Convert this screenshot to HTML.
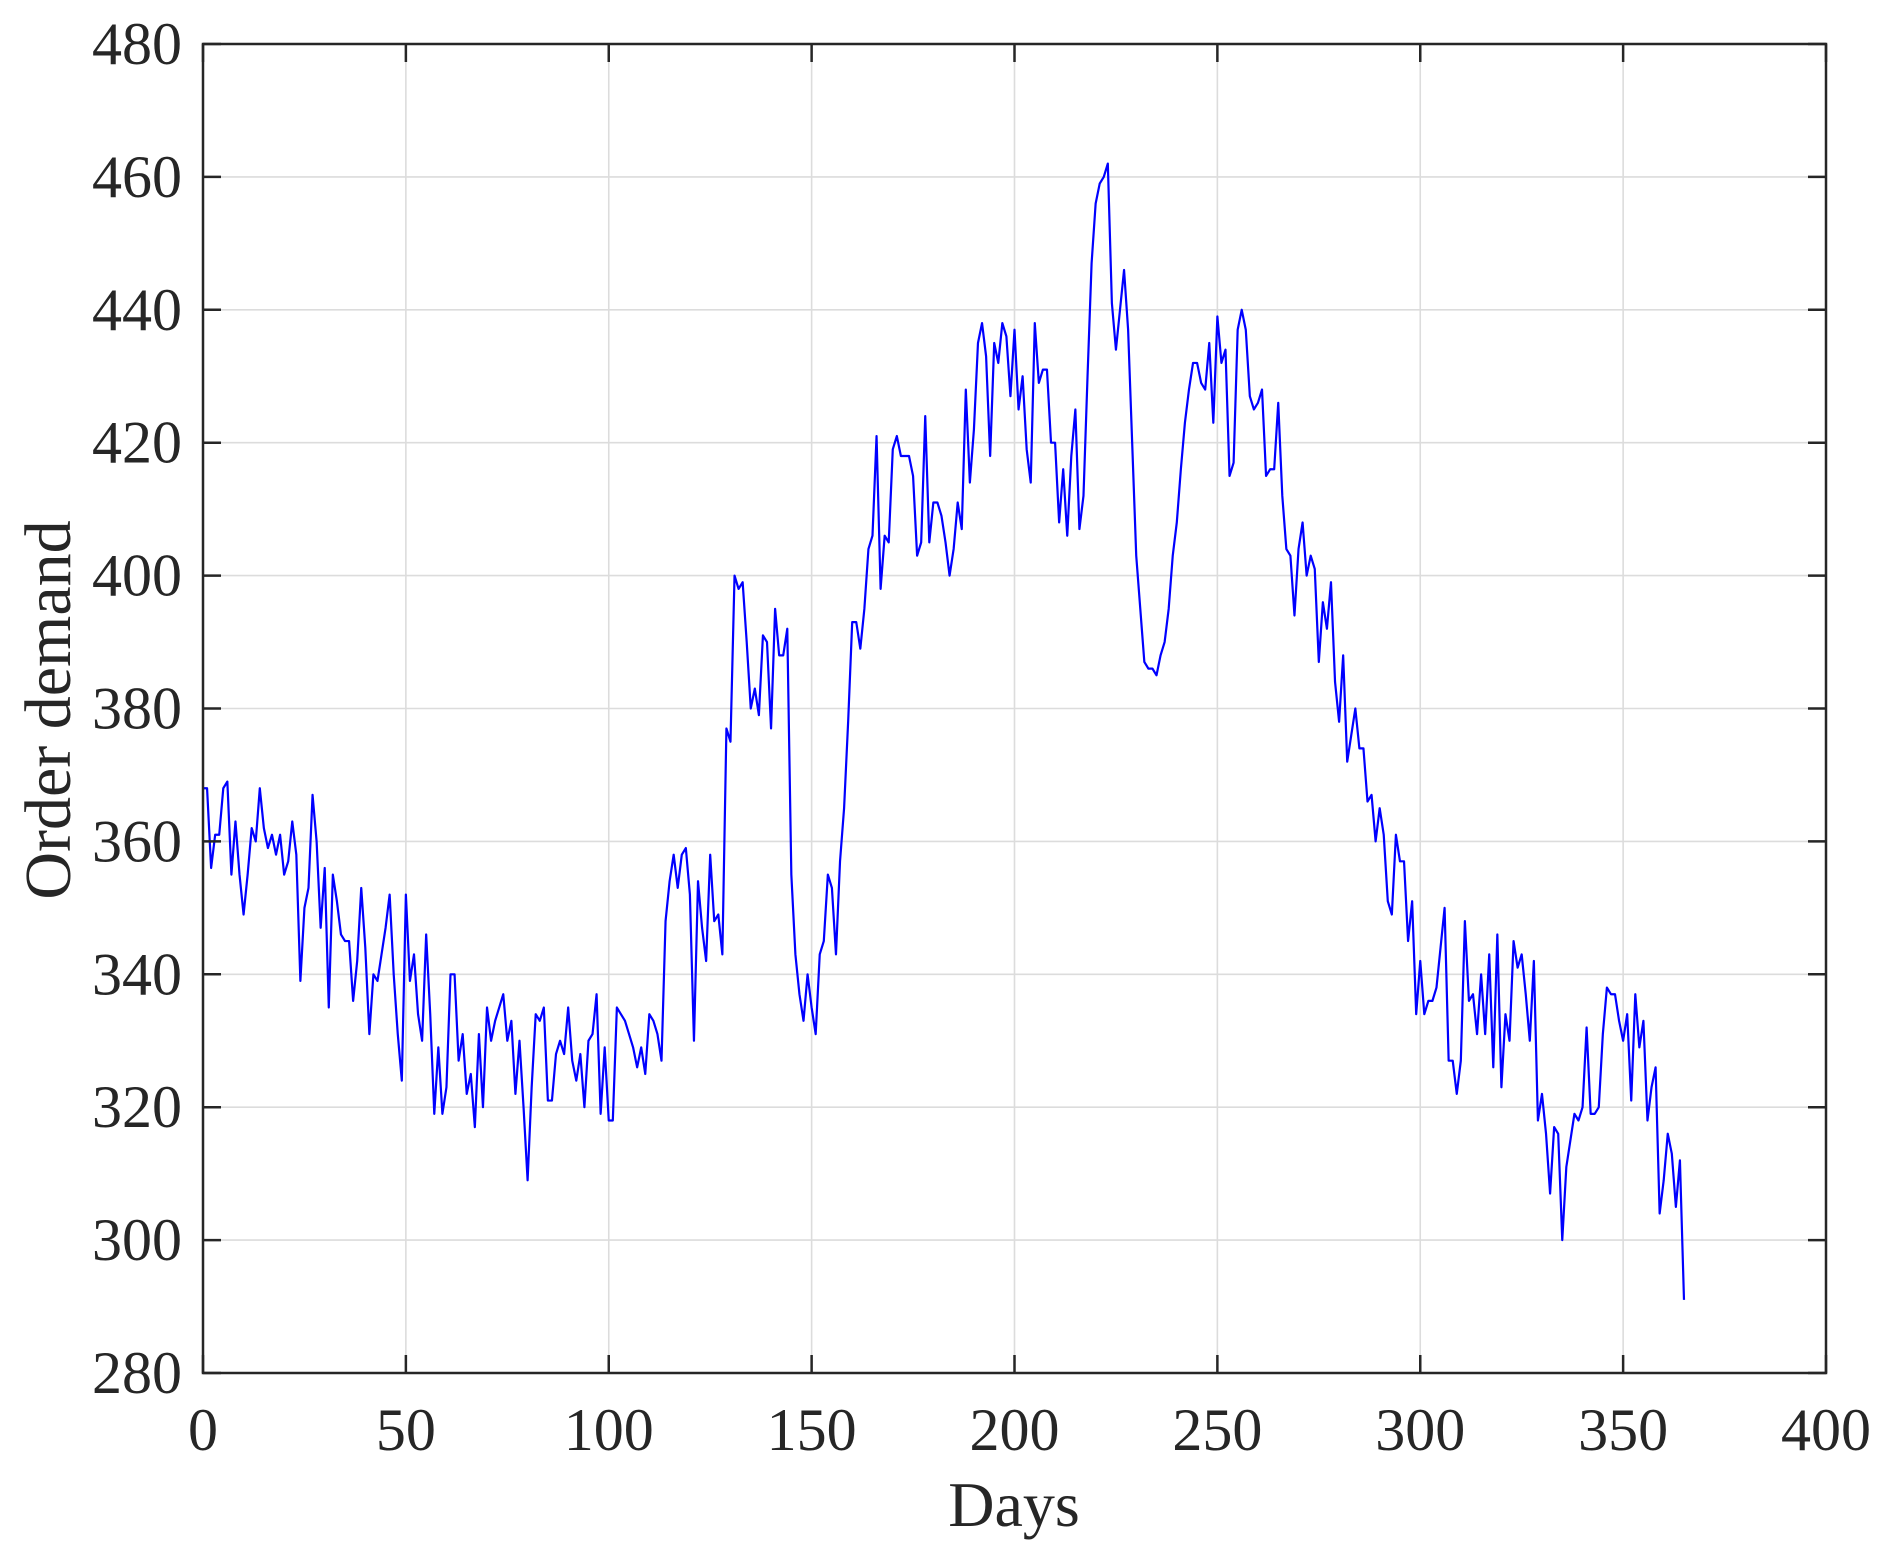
<!DOCTYPE html>
<html><head><meta charset="utf-8"><style>
html,body{margin:0;padding:0;background:#fff;}
svg{display:block;}
text{font-family:"Liberation Serif",serif;fill:#262626;}
</style></head><body>
<svg id="chart" width="1887" height="1557" viewBox="0 0 1887 1557" xmlns="http://www.w3.org/2000/svg">
<g id="grid"></g>
<g id="series"></g>
<g id="axes"></g>
<text x="1014" y="1526" font-size="64" text-anchor="middle">Days</text>
<text transform="translate(70,710) rotate(-90)" font-size="66" text-anchor="middle">Order demand</text>
</svg>
<script>
const xTicks = [0,50,100,150,200,250,300,350,400];
const yTicks = [280,300,320,340,360,380,400,420,440,460,480];
const demand = [368,368,356,361,361,368,369,355,363,355,349,
355,362,360,368,362,359,361,358,361,355,
357,363,358,339,350,353,367,360,347,356,
335,355,351,346,345,345,336,342,353,344,
331,340,339,343,347,352,340,331,324,352,
339,343,334,330,346,334,319,329,319,323,
340,340,327,331,322,325,317,331,320,335,
330,333,335,337,330,333,322,330,320,309,
323,334,333,335,321,321,328,330,328,335,
327,324,328,320,330,331,337,319,329,318,
318,335,334,333,331,329,326,329,325,334,
333,331,327,348,354,358,353,358,359,352,
330,354,347,342,358,348,349,343,377,375,
400,398,399,390,380,383,379,391,390,377,
395,388,388,392,355,343,337,333,340,335,
331,343,345,355,353,343,357,365,378,393,
393,389,395,404,406,421,398,406,405,419,
421,418,418,418,415,403,405,424,405,411,
411,409,405,400,404,411,407,428,414,422,
435,438,433,418,435,432,438,436,427,437,
425,430,419,414,438,429,431,431,420,420,
408,416,406,418,425,407,412,430,447,456,
459,460,462,441,434,440,446,437,420,403,
395,387,386,386,385,388,390,395,403,408,
416,423,428,432,432,429,428,435,423,439,
432,434,415,417,437,440,437,427,425,426,
428,415,416,416,426,412,404,403,394,404,
408,400,403,401,387,396,392,399,384,378,
388,372,376,380,374,374,366,367,360,365,
361,351,349,361,357,357,345,351,334,342,
334,336,336,338,344,350,327,327,322,327,
348,336,337,331,340,331,343,326,346,323,
334,330,345,341,343,337,330,342,318,322,
316,307,317,316,300,311,315,319,318,320,
332,319,319,320,331,338,337,337,333,330,
334,321,337,329,333,318,323,326,304,309,
316,313,305,312,291];

const L=203,R=1826,T=44,B=1373;
const xMin=0,xMax=400,yMin=280,yMax=480;
const xs=v=>L+(v-xMin)/(xMax-xMin)*(R-L);
const ys=v=>B-(v-yMin)/(yMax-yMin)*(B-T);
const NS='http://www.w3.org/2000/svg';
function mk(tag,parent){const e=document.createElementNS(NS,tag);parent.appendChild(e);return e;}
const grid=document.getElementById('grid'),axes=document.getElementById('axes'),series=document.getElementById('series');

xTicks.forEach(t=>{
  const x=xs(t);
  if(t>xMin&&t<xMax){
    const g=mk('line',grid);
    
    
    g.setAttribute('x1',x);g.setAttribute('x2',x);g.setAttribute('y1',T);g.setAttribute('y2',B);
    g.setAttribute('stroke','#dcdcdc');g.setAttribute('stroke-width','1.6');
  }
  [[B,B-18],[T,T+18]].forEach(p=>{
    const k=mk('line',axes);
    
    
    k.setAttribute('x1',x);k.setAttribute('x2',x);k.setAttribute('y1',p[0]);k.setAttribute('y2',p[1]);
    k.setAttribute('stroke','#262626');k.setAttribute('stroke-width','2.5');
  });
  const lb=mk('text',axes);
  
  
  lb.setAttribute('x',x);lb.setAttribute('y',1450);lb.setAttribute('font-size','60');lb.setAttribute('text-anchor','middle');
  lb.textContent=t;
});
yTicks.forEach(t=>{
  const y=ys(t);
  if(t>yMin&&t<yMax){
    const g=mk('line',grid);
    
    
    g.setAttribute('x1',L);g.setAttribute('x2',R);g.setAttribute('y1',y);g.setAttribute('y2',y);
    g.setAttribute('stroke','#dcdcdc');g.setAttribute('stroke-width','1.6');
  }
  [[L,L+18],[R,R-18]].forEach(p=>{
    const k=mk('line',axes);
    
    
    k.setAttribute('x1',p[0]);k.setAttribute('x2',p[1]);k.setAttribute('y1',y);k.setAttribute('y2',y);
    k.setAttribute('stroke','#262626');k.setAttribute('stroke-width','2.5');
  });
  const lb=mk('text',axes);
  
  
  lb.setAttribute('x',182);lb.setAttribute('y',y+20);lb.setAttribute('font-size','60');lb.setAttribute('text-anchor','end');
  lb.textContent=t;
});
const box=mk('rect',axes);


box.setAttribute('x',L);box.setAttribute('y',T);box.setAttribute('width',R-L);box.setAttribute('height',B-T);
box.setAttribute('fill','none');box.setAttribute('stroke','#262626');box.setAttribute('stroke-width','2.5');

const pl=mk('polyline',series);


pl.setAttribute('points',demand.map((v,i)=>xs(i)+','+ys(v)).join(' '));
pl.setAttribute('fill','none');pl.setAttribute('stroke','#0000ff');pl.setAttribute('stroke-width','2.2');pl.setAttribute('stroke-linejoin','round');
</script>
</body></html>
